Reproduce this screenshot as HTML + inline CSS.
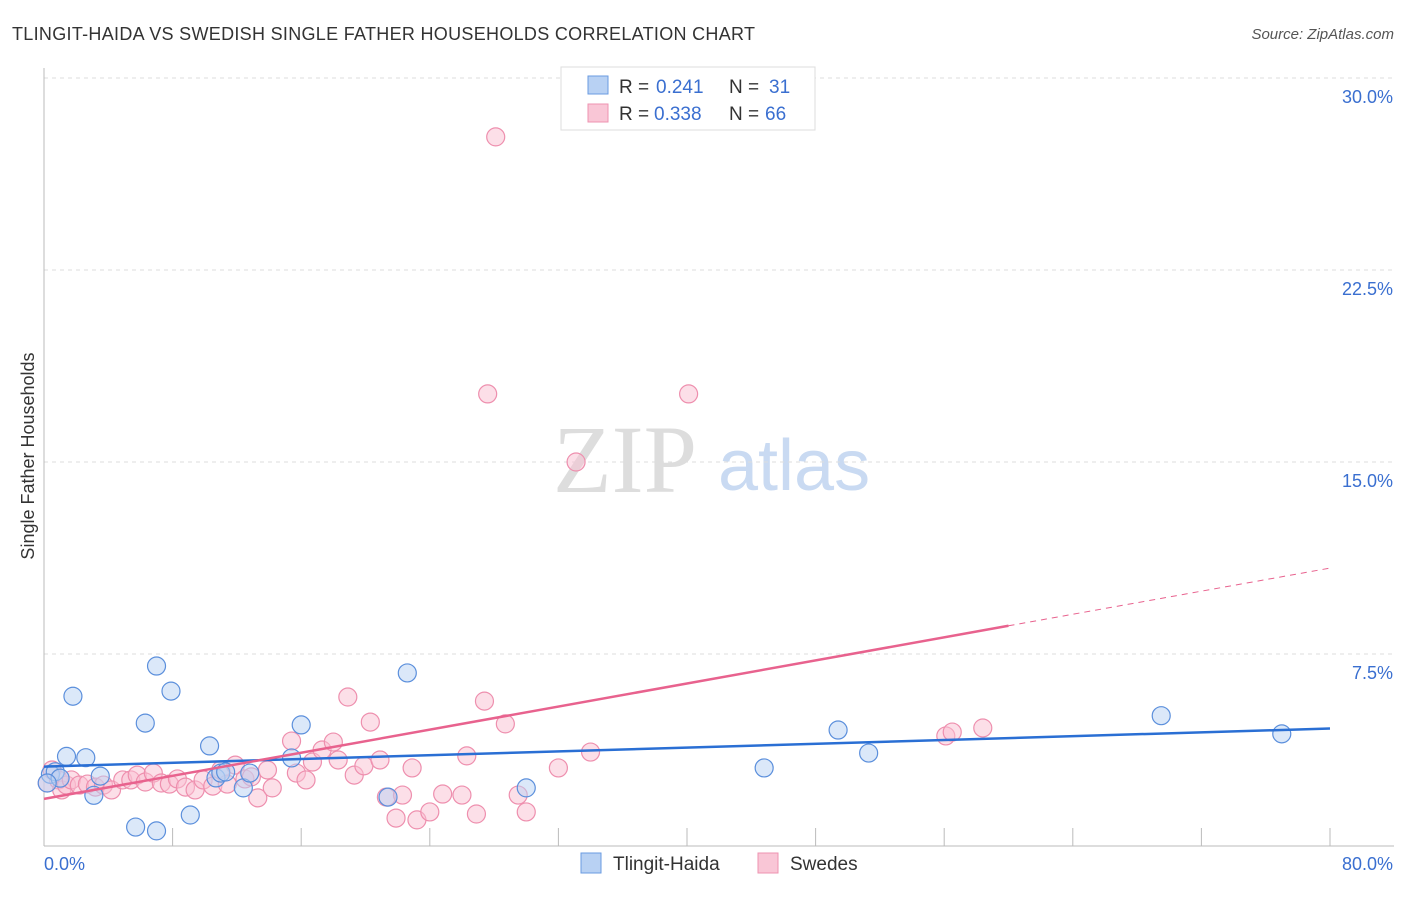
<!DOCTYPE html>
<html><head><meta charset="utf-8"><style>
body{margin:0;background:#fff;font-family:"Liberation Sans",sans-serif;}
svg text{font-family:"Liberation Sans",sans-serif;}
</style></head><body>
<svg id="chart" width="1406" height="892" xmlns="http://www.w3.org/2000/svg">
<text x="12" y="40" font-size="18" fill="#333" textLength="743">TLINGIT-HAIDA VS SWEDISH SINGLE FATHER HOUSEHOLDS CORRELATION CHART</text>
<text x="1394" y="39" font-size="15" fill="#555" text-anchor="end" font-style="italic">Source: ZipAtlas.com</text>
<text transform="translate(34,456) rotate(-90)" font-size="18" fill="#333" text-anchor="middle">Single Father Households</text>
<text x="553" y="492" font-size="96" fill="#ddd" style="font-family:'Liberation Serif',serif">ZIP</text>
<text x="718" y="490" font-size="72" fill="#c9daf2">atlas</text>
<g id="grid"></g><g id="marks"></g>
<g>
<rect x="561" y="67" width="254" height="63" fill="#fff" stroke="#ddd"/>
<rect x="588" y="76" width="20" height="18" fill="#b8d1f3" stroke="#6a9be0"/>
<rect x="588" y="104" width="20" height="18" fill="#f9c6d6" stroke="#ee93b0"/>
<text x="619" y="93" font-size="19" fill="#333">R =</text>
<text x="656" y="93" font-size="19" fill="#3a6fd0">0.241</text>
<text x="729" y="93" font-size="19" fill="#333">N =</text>
<text x="769" y="93" font-size="19" fill="#3a6fd0">31</text>
<text x="619" y="120" font-size="19" fill="#333">R =</text>
<text x="654" y="120" font-size="19" fill="#3a6fd0">0.338</text>
<text x="729" y="120" font-size="19" fill="#333">N =</text>
<text x="765" y="120" font-size="19" fill="#3a6fd0">66</text>
</g>
<g>
<rect x="581" y="853" width="20" height="20" fill="#b8d1f3" stroke="#6a9be0"/>
<text x="613" y="870" font-size="19" fill="#333">Tlingit-Haida</text>
<rect x="758" y="853" width="20" height="20" fill="#f9c6d6" stroke="#ee93b0"/>
<text x="790" y="870" font-size="19" fill="#333">Swedes</text>
</g>
</svg>
<script>
const yTicks=[7.5,15,22.5,30];
const yTickLabels=["7.5%","15.0%","22.5%","30.0%"];
const xLabels=["0.0%","80.0%"];
const blueX=[0.4,0.7,1.0,1.4,2.6,1.8,3.1,3.5,5.7,7.0,6.3,7.0,7.9,9.1,10.3,10.7,11.0,11.3,12.4,12.8,15.4,16.0,21.4,22.6,30.0,44.8,49.4,51.3,69.5,77.0,0.2];
const blueY=[2.8,2.9,2.65,3.5,3.45,5.85,1.98,2.73,0.74,0.59,4.8,7.03,6.05,1.21,3.91,2.66,2.85,2.89,2.27,2.85,3.44,4.73,1.91,6.76,2.27,3.05,4.53,3.63,5.09,4.38,2.46];
const pinkX=[0.2,0.5,0.9,1.1,1.4,1.7,2.2,2.7,3.2,3.7,4.2,4.9,5.4,5.8,6.3,6.8,7.3,7.8,8.3,8.8,9.4,9.9,10.5,11.0,11.4,11.9,12.5,12.9,13.3,13.9,14.2,15.4,15.7,16.3,16.7,17.3,18.0,18.3,18.9,19.3,19.9,20.3,20.9,21.3,21.9,22.3,22.9,23.2,24.0,24.8,26.0,26.3,26.9,27.4,27.6,28.1,28.7,29.5,30.0,32.0,33.1,34.0,40.1,56.1,56.5,58.4];
const pinkY=[2.46,2.97,2.58,2.19,2.38,2.58,2.38,2.42,2.3,2.38,2.19,2.58,2.58,2.77,2.5,2.85,2.46,2.42,2.62,2.3,2.19,2.58,2.34,2.97,2.42,3.16,2.62,2.7,1.88,2.97,2.27,4.1,2.85,2.58,3.28,3.75,4.06,3.36,5.82,2.77,3.13,4.84,3.36,1.91,1.09,1.99,3.05,1.02,1.33,2.03,1.99,3.52,1.25,5.66,17.66,27.7,4.77,1.99,1.33,3.05,15.0,3.67,17.66,4.3,4.45,4.61];
const X=v=>44+v/80*1286, Y=v=>846-v*25.6;
const NS="http://www.w3.org/2000/svg";
const grid=document.getElementById('grid'), marks=document.getElementById('marks');
function mk(tag,attrs,parent){const e=document.createElementNS(NS,tag);for(const k in attrs)e.setAttribute(k,attrs[k]);parent.appendChild(e);return e;}
yTicks.forEach((t,i)=>{
 const l=mk('line',{x1:44,x2:1394,y1:Y(t),y2:Y(t),stroke:'#ddd','stroke-dasharray':'4,4'},grid);
 
 
 const tx=mk('text',{x:1393,y:Y(t)+25,'font-size':18,fill:'#3a6fd0','text-anchor':'end'},grid);
 tx.textContent=yTickLabels[i];
 
 
});
const ax=mk('line',{x1:44,x2:44,y1:68,y2:846,stroke:'#bbb'},grid);


const bx=mk('line',{x1:44,x2:1394,y1:846,y2:846,stroke:'#bbb'},grid);


for(let i=1;i<=10;i++){const t=mk('line',{x1:X(i*8),x2:X(i*8),y1:828,y2:846,stroke:'#bbb'},grid);
 
 }
[[0,44,'start'],[80,1393,'end']].forEach((d,i)=>{const t=mk('text',{x:d[1],y:870,'font-size':18,fill:'#3a6fd0','text-anchor':d[2]},grid);t.textContent=xLabels[i];
 
 });
function dots(xs,ys,fill,stroke,name){xs.forEach((x,i)=>{const c=mk('circle',{cx:X(x),cy:Y(ys[i]),r:9,fill:fill,'fill-opacity':0.5,stroke:stroke,'stroke-width':1.2},marks);
 
 });}
dots(pinkX,pinkY,'#f9c0d2','#ee8fae','swedes-point');
dots(blueX,blueY,'#b8d1f3','#5b8fdc','tlingit-haida-point');
const bf=[3.1,0.0186], pf=[1.84,0.1127];
let l=mk('line',{x1:X(0),y1:Y(bf[0]),x2:X(80),y2:Y(bf[0]+bf[1]*80),stroke:'#2a6fd4','stroke-width':2.5},marks);


l=mk('line',{x1:X(0),y1:Y(pf[0]),x2:X(60),y2:Y(pf[0]+pf[1]*60),stroke:'#e8628e','stroke-width':2.5},marks);


l=mk('line',{x1:X(60),y1:Y(pf[0]+pf[1]*60),x2:X(80),y2:Y(pf[0]+pf[1]*80),stroke:'#e8628e','stroke-width':1,'stroke-dasharray':'6,5'},marks);


</script>
</body></html>
